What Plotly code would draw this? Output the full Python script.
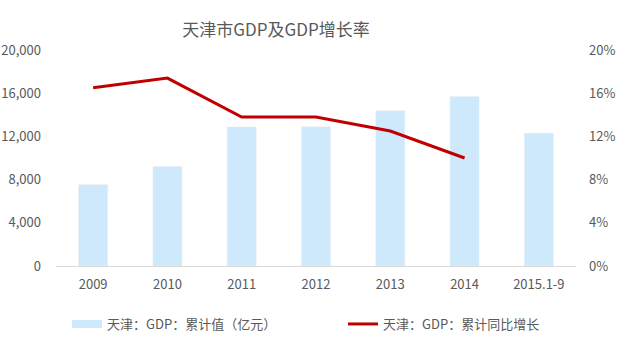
import plotly.graph_objects as go

categories = ["2009", "2010", "2011", "2012", "2013", "2014", "2015.1-9"]
gdp_values = [7522, 9224, 12880, 12885, 14370, 15700, 12300]
growth_values = [16.5, 17.4, 13.8, 13.8, 12.5, 10.0, None]
left_ticks = [0, 4000, 8000, 12000, 16000, 20000]
left_tick_text = ["0", "4,000", "8,000", "12,000", "16,000", "20,000"]
right_ticks = [0, 4, 8, 12, 16, 20]
right_tick_text = ["0%", "4%", "8%", "12%", "16%", "20%"]

bar_name = "天津：GDP：累计值（亿元）"
line_name = "天津：GDP：累计同比增长"

BAR_COLOR = "#CDE9FB"
LINE_COLOR = "#C00000"
TEXT_COLOR = "#595959"
FONT = "Noto Sans CJK SC, Liberation Sans, sans-serif"

fig = go.Figure()
fig.add_trace(go.Bar(x=categories, y=gdp_values, marker_color=BAR_COLOR,
                     name=bar_name, showlegend=False, yaxis="y"))
# legend swatch for bars (wide rectangle like the reference)
fig.add_trace(go.Scatter(x=[None], y=[None], mode="lines",
                         line=dict(color=BAR_COLOR, width=8),
                         name=bar_name, legend="legend", yaxis="y"))
fig.add_trace(go.Scatter(x=categories, y=growth_values, mode="lines",
                         line=dict(color=LINE_COLOR, width=3),
                         name=line_name, legend="legend2", yaxis="y2"))

legend_y = 1 - 324 / 340

fig.update_layout(
    width=620, height=340,
    margin=dict(l=56, r=44, t=50, b=74),
    paper_bgcolor="white", plot_bgcolor="white",
    font=dict(family=FONT, size=13, color=TEXT_COLOR),
    title=dict(text="天津市GDP及GDP增长率", x=276/620, xanchor="center",
               y=1 - 30/340, yanchor="middle",
               font=dict(size=17, color=TEXT_COLOR, family=FONT)),
    bargap=0.61,
    xaxis=dict(type="category", showgrid=False, showline=True,
               linecolor="#D9D9D9", linewidth=1, ticks="", automargin=False,
               tickfont=dict(size=13, color=TEXT_COLOR), ticklabelstandoff=6),
    yaxis=dict(range=[0, 20000], tickvals=left_ticks, ticktext=left_tick_text,
               showgrid=False, zeroline=False, showline=False, ticks="",
               automargin=False,
               ticklabelstandoff=14, tickfont=dict(size=13, color=TEXT_COLOR)),
    yaxis2=dict(range=[0, 20], tickvals=right_ticks, ticktext=right_tick_text,
                overlaying="y", side="right", showgrid=False, zeroline=False,
                showline=False, ticks="", ticklabelstandoff=12, automargin=False,
                tickfont=dict(size=13, color=TEXT_COLOR)),
    legend=dict(orientation="h", x=(67 - 56) / 520, xanchor="left",
                yref="container", y=legend_y, yanchor="middle",
                font=dict(size=13, color=TEXT_COLOR), bgcolor="rgba(0,0,0,0)"),
    legend2=dict(orientation="h", x=(343 - 56) / 520, xanchor="left",
                 yref="container", y=legend_y, yanchor="middle",
                 font=dict(size=13, color=TEXT_COLOR), bgcolor="rgba(0,0,0,0)"),
)

fig.write_html("out.html")
